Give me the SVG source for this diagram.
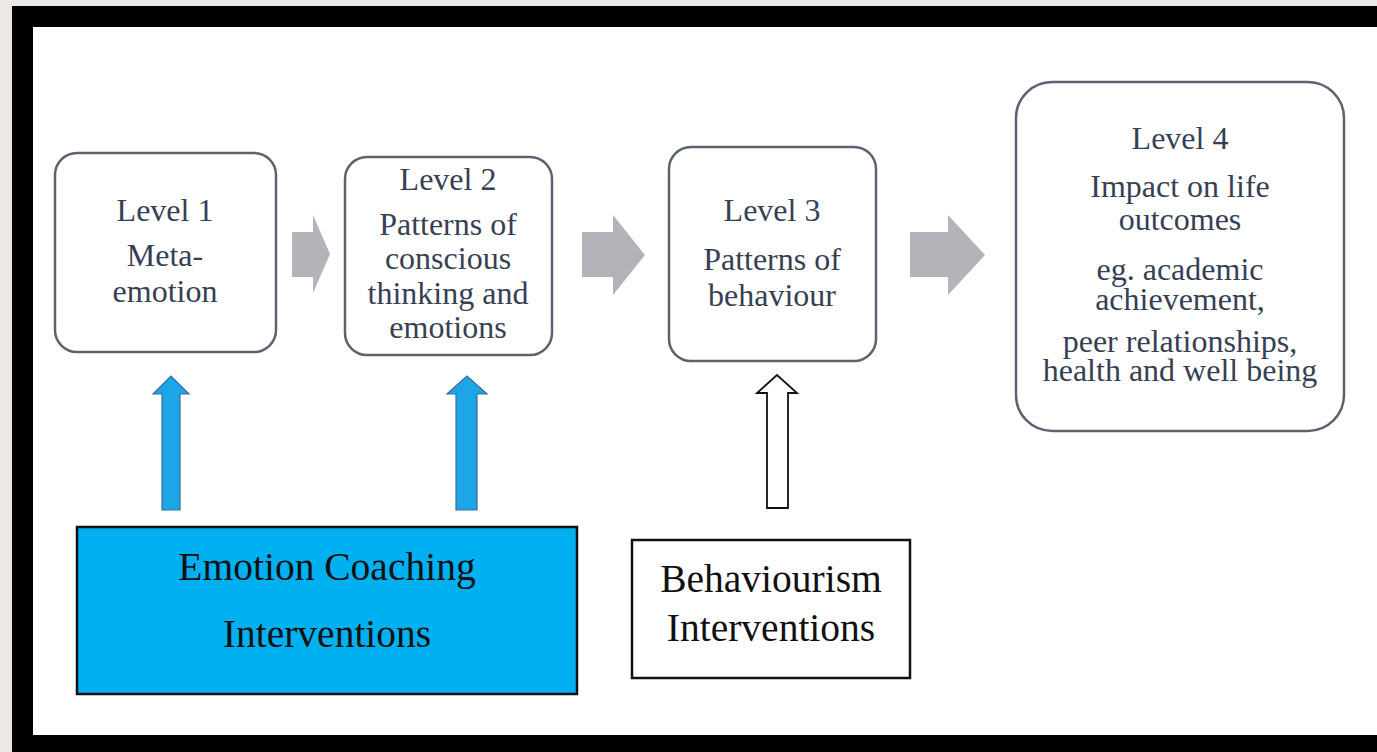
<svg xmlns="http://www.w3.org/2000/svg" width="1377" height="752" viewBox="0 0 1377 752">
  <style>
    .level { fill: #ffffff; stroke: #5b6371; stroke-width: 2.5; }
    .ltxt { font-family: "Liberation Serif", "Times New Roman", serif; font-size: 32px; fill: #363f54; text-anchor: middle; }
    .btxt { font-family: "Liberation Serif", "Times New Roman", serif; font-size: 39.5px; fill: #111111; text-anchor: middle; }
    .flow { fill: #b2b4b9; stroke: none; }
    .blue { fill: #1ca6e8; stroke: #3a6aa0; stroke-width: 1.2; }
    .hollow { fill: #ffffff; stroke: #111111; stroke-width: 1.8; }
  </style>

  <!-- page background and frame -->
  <rect x="0" y="0" width="1377" height="752" fill="#ece8e5"/>
  <rect x="12" y="6" width="1365" height="746" fill="#000000"/>
  <rect x="33" y="27" width="1344" height="708" fill="#ffffff"/>

  <!-- level boxes -->
  <g id="level1">
    <rect class="level" x="55" y="153" width="221" height="199" rx="22"/>
    <text class="ltxt" x="165" y="221">Level 1</text>
    <text class="ltxt" x="165" y="266">Meta-</text>
    <text class="ltxt" x="165" y="302">emotion</text>
  </g>
  <g id="level2">
    <rect class="level" x="345" y="157" width="207" height="198" rx="22"/>
    <text class="ltxt" x="448" y="190">Level 2</text>
    <text class="ltxt" x="448" y="235">Patterns of</text>
    <text class="ltxt" x="448" y="269">conscious</text>
    <text class="ltxt" x="448" y="304">thinking and</text>
    <text class="ltxt" x="448" y="338">emotions</text>
  </g>
  <g id="level3">
    <rect class="level" x="669" y="147" width="207" height="214" rx="22"/>
    <text class="ltxt" x="772" y="221">Level 3</text>
    <text class="ltxt" x="772" y="270">Patterns of</text>
    <text class="ltxt" x="772" y="306">behaviour</text>
  </g>
  <g id="level4">
    <rect class="level" x="1016" y="82" width="328" height="349" rx="36"/>
    <text class="ltxt" x="1180" y="149">Level 4</text>
    <text class="ltxt" x="1180" y="197">Impact on life</text>
    <text class="ltxt" x="1180" y="230">outcomes</text>
    <text class="ltxt" x="1180" y="280">eg. academic</text>
    <text class="ltxt" x="1180" y="310">achievement,</text>
    <text class="ltxt" x="1180" y="352">peer relationships,</text>
    <text class="ltxt" x="1180" y="381">health and well being</text>
  </g>

  <!-- intervention boxes -->
  <g id="emotion-coaching">
    <rect x="77" y="527" width="500" height="167" fill="#00b0f0" stroke="#111111" stroke-width="2.5"/>
    <text class="btxt" x="327" y="580">Emotion Coaching</text>
    <text class="btxt" x="327" y="647">Interventions</text>
  </g>
  <g id="behaviourism">
    <rect x="632" y="540" width="278" height="138" fill="#ffffff" stroke="#111111" stroke-width="2.5"/>
    <text class="btxt" x="771" y="592">Behaviourism</text>
    <text class="btxt" x="771" y="641">Interventions</text>
  </g>

  <!-- connectors -->
  <g id="connectors">
    <!-- flow between levels -->
    <polygon class="flow" points="292,232 313,232 313,215 330,254 313,293 313,277 292,277"/>
    <polygon class="flow" points="582,232 613,232 613,215 645,255 613,295 613,277 582,277"/>
    <polygon class="flow" points="910,232 948,232 948,215 985,255 948,295 948,277 910,277"/>
    <!-- interventions acting on levels -->
    <polygon class="blue" points="162,510 162,394 153,394 171,376 189,394 180,394 180,510"/>
    <polygon class="blue" points="456,510 456,394 447,394 467,376 487,394 477,394 477,510"/>
    <polygon class="hollow" points="767,508 767,393 757,393 777,375 797,393 788,393 788,508"/>
  </g>
</svg>
